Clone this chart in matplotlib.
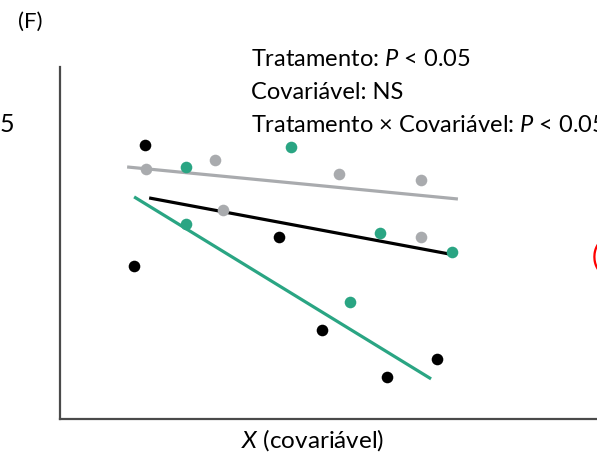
import matplotlib.pyplot as plt

plt.rcParams['font.family'] = ['Lato', 'DejaVu Sans']
plt.rcParams['mathtext.fontset'] = 'custom'
plt.rcParams['mathtext.it'] = 'Lato:italic'
plt.rcParams['mathtext.rm'] = 'Lato'

# observations per treatment (x = covariate, y = response)
black_x = [1.58, 1.38, 4.08, 4.88, 6.09, 7.02]
black_y = [7.78, 4.35, 5.17, 2.53, 1.19, 1.70]
green_x = [2.35, 4.30, 2.35, 5.96, 5.40, 7.30]
green_y = [7.16, 7.73, 5.54, 5.28, 3.32, 4.74]
gray_x = [1.60, 2.89, 3.04, 5.20, 6.72, 6.72]
gray_y = [7.10, 7.36, 5.94, 6.96, 6.79, 5.17]

# fitted lines (start, end)
gray_fit_x = [1.25, 7.41]
gray_fit_y = [7.16, 6.25]
black_fit_x = [1.66, 7.24]
black_fit_y = [6.28, 4.69]
green_fit_x = [1.38, 6.91]
green_fit_y = [6.31, 1.14]

stats = ["Tratamento: $P$ < 0.05",
         "Covariável: NS",
         "Tratamento × Covariável: $P$ < 0.05"]

GREEN = "#2aa583"
GRAY = "#a9abae"

fig = plt.figure(figsize=(5.97, 4.57), dpi=100)
ax = fig.add_axes([60/597, 1-419/457, 1-60/597, (419-67)/457])

ax.plot(gray_fit_x, gray_fit_y, color=GRAY, lw=2.3, solid_capstyle="butt")
ax.plot(black_fit_x, black_fit_y, color="black", lw=2.3, solid_capstyle="butt")
ax.plot(green_fit_x, green_fit_y, color=GREEN, lw=2.3, solid_capstyle="butt")

ax.scatter(gray_x, gray_y, s=70, color=GRAY, zorder=3, linewidths=0)
ax.scatter(green_x, green_y, s=70, color=GREEN, zorder=3, linewidths=0)
ax.scatter(black_x, black_y, s=70, color="black", zorder=3, linewidths=0)

ax.set_xlim(0, 10)
ax.set_ylim(0, 10)
ax.set_xticks([])
ax.set_yticks([])
for side in ["top", "right"]:
    ax.spines[side].set_visible(False)
for side in ["left", "bottom"]:
    ax.spines[side].set_color("#4a4a4a")
    ax.spines[side].set_linewidth(1.6)

for i, s in enumerate(stats):
    fig.text(251/597, 1-(60+32.5*i)/457, s, fontsize=17, va="center", ha="left")

fig.text(18/597, 1-22/457, "(F)", fontsize=16, va="center", ha="left")
fig.text(0, 1-125/457, "5", fontsize=18, va="center", ha="left")
fig.text(313/597, 1-440/457, "$X$ (covariável)", fontsize=17.5,
         va="center", ha="center")
fig.text(592/597, 1-257/457, "(", fontsize=21, va="center", ha="left",
         color="red")

fig.savefig("out.png", dpi=100)
